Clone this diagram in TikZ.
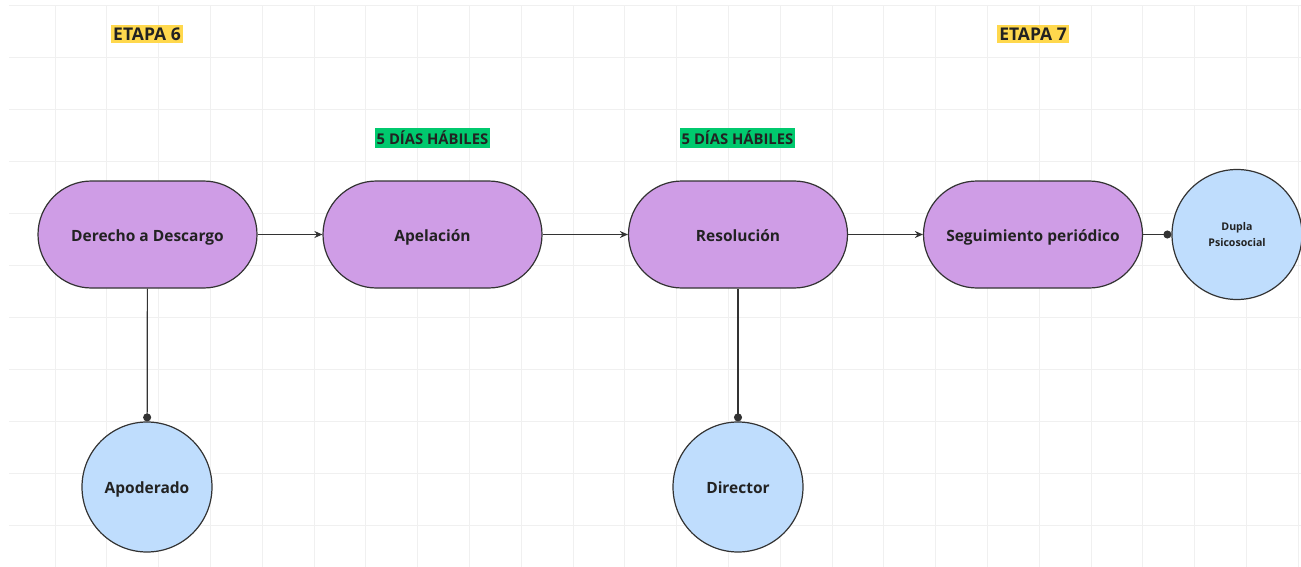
\documentclass[tikz,border=0pt]{standalone}
\usepackage{fontspec}
\setmainfont{Open Sans}
\usetikzlibrary{arrows.meta}
\definecolor{gridc}{HTML}{F0F0F0}
\definecolor{purp}{HTML}{CF9DE6}
\definecolor{lblue}{HTML}{BFDDFD}
\definecolor{ylw}{HTML}{FFD84D}
\definecolor{grn}{HTML}{00C96E}
\definecolor{ink}{HTML}{222222}
\definecolor{edge}{HTML}{333333}
\tikzset{
  stadium/.style={draw=edge, line width=1.2pt, fill=purp, rounded corners=53.5pt, minimum width=219pt, minimum height=107pt, inner sep=0pt, font=\fontsize{15.5}{18}\selectfont\bfseries, text=ink, text height=14pt, text depth=0pt},
  person/.style={draw=edge, line width=1.2pt, fill=lblue, circle, minimum size=130pt, inner sep=0pt, font=\fontsize{15.5}{18}\selectfont\bfseries, text=ink, align=center},
  stage/.style={fill=ylw, inner xsep=2pt, inner ysep=3pt, font=\fontsize{17.5}{20}\selectfont\bfseries, text=ink},
  days/.style={fill=grn, inner xsep=2pt, inner ysep=3pt, font=\fontsize{14.8}{17}\selectfont\bfseries, text=ink},
  flow/.style={draw=edge, line width=1.2pt, -{Stealth[length=8pt,width=7pt]}},
  link/.style={draw=edge, line width=1.2pt, -{Circle[length=8pt]}}
}
\begin{document}
\begin{tikzpicture}[x=1pt,y=-1pt]
\useasboundingbox (0,0) rectangle (1301,567);
\fill[white] (0,0) rectangle (1301,567);
\foreach \k in {0,...,24} \draw[gridc, line width=1pt] ({55+51.8*\k},5.7) -- ({55+51.8*\k},567);
\foreach \k in {0,...,10} \draw[gridc, line width=1pt] (9,{5.7+52*\k}) -- (1301,{5.7+52*\k});
\node[stage] (e6) at (147,34) {ETAPA 6};
\node[stage] (e7) at (1033,34) {ETAPA 7};
\node[days] (d1) at (432.5,138) {5 DÍAS HÁBILES};
\node[days] (d2) at (737.5,138) {5 DÍAS HÁBILES};
\node[stadium] (der) at (147.5,234.5) {Derecho a Descargo};
\node[stadium] (ape) at (432.5,234.5) {Apelación};
\node[stadium] (res) at (738,234.5) {Resolución};
\node[stadium] (seg) at (1033,234.5) {Seguimiento periódico};
\node[person, text height=13pt, text depth=0pt] (apo) at (147,487) {Apoderado};
\node[person, text height=13pt, text depth=0pt] (dir) at (738,487) {Director};
\node[person, font=\fontsize{10.6}{16}\selectfont\bfseries] (dup) at (1237,234.5) {Dupla\\Psicosocial};
\draw[flow] (der) -- (ape);
\draw[flow] (ape) -- (res);
\draw[flow] (res) -- (seg);
\draw[link] (der) -- (apo);
\draw[link] (res) -- (dir);
\draw[link] (seg) -- (dup);
\end{tikzpicture}
\end{document}
